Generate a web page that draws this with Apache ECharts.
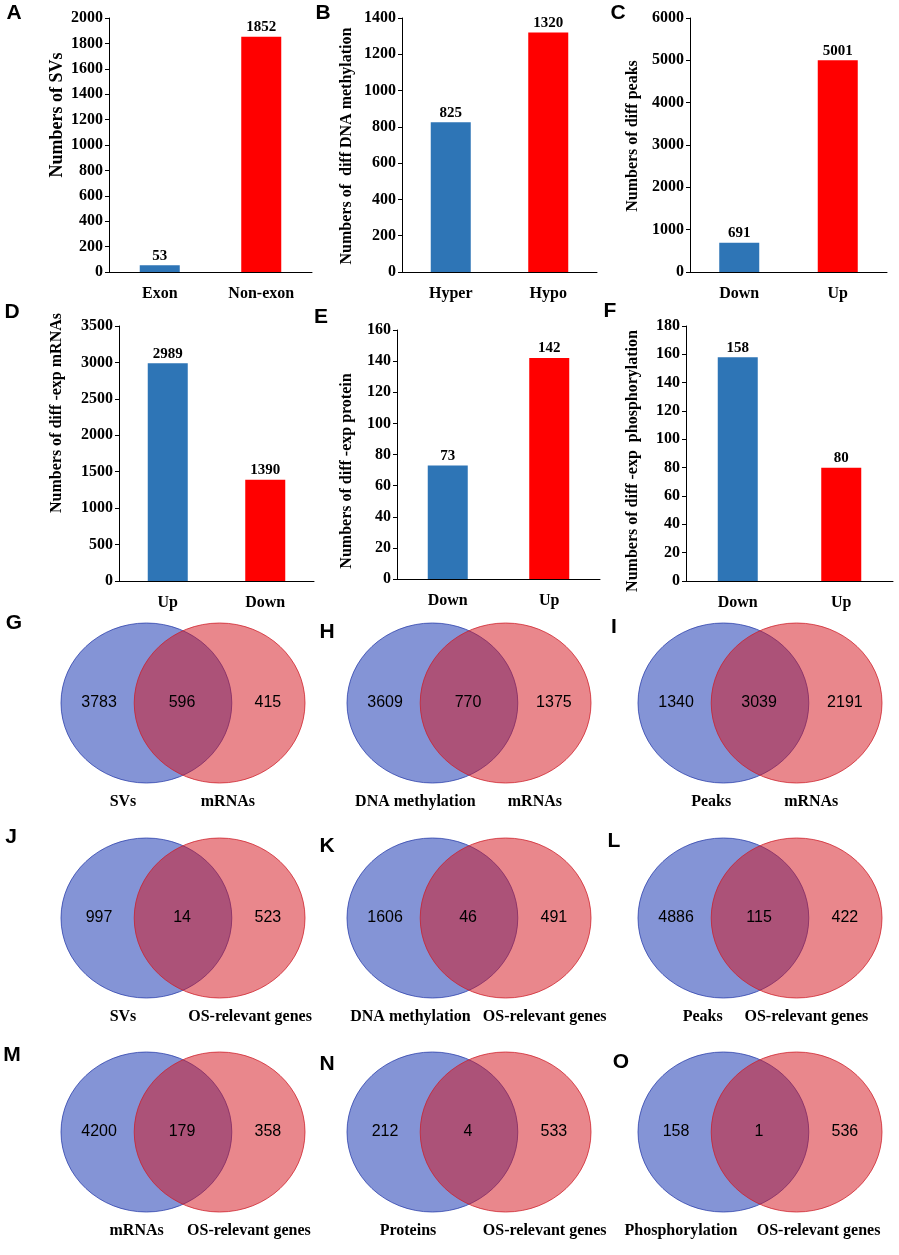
<!DOCTYPE html>
<html>
<head>
<meta charset="utf-8">
<script src="https://cdn.jsdelivr.net/npm/echarts@6.0.0/dist/echarts.min.js"></script>
<style>
  html, body { margin: 0; padding: 0; background: #fff; }
  #chart { width: 899px; height: 1255px; }
</style>
</head>
<body>
<div id="chart"></div>
<script>
// ---- data: bar panels A-F ----
const barCategories = [
  ['Exon', 'Non-exon'],
  ['Hyper', 'Hypo'],
  ['Down', 'Up'],
  ['Up', 'Down'],
  ['Down', 'Up'],
  ['Down', 'Up']
];
const barValues = [
  [53, 1852],
  [825, 1320],
  [691, 5001],
  [2989, 1390],
  [73, 142],
  [158, 80]
];
const barAxisMax = [2000, 1400, 6000, 3500, 160, 180];
const barAxisStep = [200, 200, 1000, 500, 20, 20];
const barTitles = [
  'Numbers of SVs',
  'Numbers of  diff DNA methylation',
  'Numbers of diff peaks',
  'Numbers of diff -exp mRNAs',
  'Numbers of diff -exp protein',
  'Numbers of diff -exp  phosphorylation'
];

// ---- data: venn panels G-O ----
const vennLeftOnly = [3783, 3609, 1340, 997, 1606, 4886, 4200, 212, 158];
const vennShared = [596, 770, 3039, 14, 46, 115, 179, 4, 1];
const vennRightOnly = [415, 1375, 2191, 523, 491, 422, 358, 533, 536];
const vennLeftNames = ['SVs', 'DNA methylation', 'Peaks', 'SVs', 'DNA methylation', 'Peaks', 'mRNAs', 'Proteins', 'Phosphorylation'];
const vennRightNames = ['mRNAs', 'mRNAs', 'mRNAs', 'OS-relevant genes', 'OS-relevant genes', 'OS-relevant genes', 'OS-relevant genes', 'OS-relevant genes', 'OS-relevant genes'];

const panelLetters = ['A', 'B', 'C', 'D', 'E', 'F', 'G', 'H', 'I', 'J', 'K', 'L', 'M', 'N', 'O'];

// ---- layout ----
const SERIF = '"Times New Roman", "Liberation Serif", serif';
const SANS = 'Arial, "Liberation Sans", sans-serif';
const BLUE = '#2e75b6';
const RED = '#ff0000';

// bar grids [left, top, width, height]
const barGrids = [
  [109, 18, 203, 254],
  [402, 18, 195, 254],
  [690, 18, 197, 254],
  [119, 326, 195, 255],
  [397, 330, 203, 249],
  [686, 326, 207, 255]
];
// rotated y titles: [x, y, fontSize]
const barTitlePos = [
  [57, 115, 18], [347, 146, 16], [633, 136, 16],
  [57, 413, 16], [347, 471, 16], [633, 461, 16]
];
const letterPos = [
  [14, 13], [323, 13], [618, 13],
  [12, 312], [321, 317], [610, 311],
  [14, 623], [327, 632], [614, 627],
  [11, 837], [327, 846], [614, 841],
  [12, 1055], [327, 1064], [621, 1062]
];
const vennCols = [61, 347, 638];
const vennRows = [623, 838, 1052];
const VENN_W = 244, VENN_H = 160;
// x fraction of circle centres, counts, and set names inside a venn box
const circleX = [0.35, 0.65];
const countX = [0.156, 0.496, 0.848];
const namePos = [
  [0.254, 0.684], [0.28, 0.77], [0.30, 0.71],
  [0.254, 0.775], [0.26, 0.81], [0.265, 0.69],
  [0.31, 0.77], [0.25, 0.81], [0.176, 0.74]
];
const circleFill = ['rgba(10,42,174,0.5)', 'rgba(212,16,26,0.5)'];
const circleStroke = ['rgba(40,60,170,0.75)', 'rgba(205,30,40,0.75)'];

const grid = [], xAxis = [], yAxis = [], series = [], graphics = [];

// bar panels
barValues.forEach((vals, i) => {
  const [l, t, w, h] = barGrids[i];
  grid.push({ left: l, top: t, width: w, height: h });
  xAxis.push({
    gridIndex: i,
    type: 'category',
    data: barCategories[i],
    axisLine: { lineStyle: { color: '#000', width: 1 } },
    axisTick: { show: false },
    axisLabel: { color: '#000', fontFamily: SERIF, fontWeight: 'bold', fontSize: 16, margin: 14 }
  });
  yAxis.push({
    gridIndex: i,
    type: 'value',
    min: 0,
    max: barAxisMax[i],
    interval: barAxisStep[i],
    axisLine: { show: true, lineStyle: { color: '#000', width: 1 } },
    axisTick: { show: true, length: 4, lineStyle: { color: '#000' } },
    splitLine: { show: false },
    axisLabel: {
      color: '#000', fontFamily: SERIF, fontWeight: 'bold', fontSize: 16, margin: 6,
      formatter: v => String(v)
    }
  });
  series.push({
    type: 'bar',
    xAxisIndex: i,
    yAxisIndex: i,
    barWidth: 40,
    data: vals.map((v, j) => ({ value: v, itemStyle: { color: j === 0 ? BLUE : RED } })),
    label: {
      show: true, position: 'top', distance: 2, color: '#000',
      fontFamily: SERIF, fontWeight: 'bold', fontSize: 15
    },
    silent: true
  });
  const [tx, ty, fs] = barTitlePos[i];
  graphics.push({
    type: 'text', x: tx, y: ty, rotation: Math.PI / 2,
    style: {
      text: barTitles[i], align: 'center', verticalAlign: 'middle',
      font: `bold ${fs}px ${SERIF}`, fill: '#000'
    }
  });
});

// venn panels
function vennRenderer(k) {
  return function (params, api) {
    const region = api.value(0);
    const count = api.value(1);
    const size = api.size([1, 1]);
    const bottom = api.coord([0, 0])[1];
    const children = [];
    if (region !== 1) {
      const side = region === 0 ? 0 : 1;
      const c = api.coord([circleX[side], 0.5]);
      children.push({
        type: 'ellipse',
        shape: { cx: c[0], cy: c[1], rx: size[0] * 0.35, ry: size[1] * 0.5 },
        style: { fill: circleFill[side], stroke: circleStroke[side], lineWidth: 1 },
        z2: side
      });
      children.push({
        type: 'text',
        x: api.coord([namePos[k][side], 0])[0],
        y: bottom + 19,
        style: {
          text: side === 0 ? vennLeftNames[k] : vennRightNames[k],
          align: 'center', verticalAlign: 'middle',
          font: `bold 16px ${SERIF}`, fill: '#000'
        },
        z2: 10
      });
    }
    const p = api.coord([countX[region], 0.5]);
    children.push({
      type: 'text', x: p[0], y: p[1],
      style: {
        text: String(count), align: 'center', verticalAlign: 'middle',
        font: `16px ${SANS}`, fill: '#000'
      },
      z2: 10
    });
    return { type: 'group', children };
  };
}

vennShared.forEach((shared, k) => {
  const g = barValues.length + k;
  grid.push({
    left: vennCols[k % 3], top: vennRows[Math.floor(k / 3)],
    width: VENN_W, height: VENN_H
  });
  xAxis.push({ gridIndex: g, type: 'value', min: 0, max: 1, show: false });
  yAxis.push({ gridIndex: g, type: 'value', min: 0, max: 1, show: false });
  series.push({
    type: 'custom',
    xAxisIndex: g,
    yAxisIndex: g,
    renderItem: vennRenderer(k),
    data: [[0, vennLeftOnly[k]], [1, shared], [2, vennRightOnly[k]]],
    silent: true
  });
});

panelLetters.forEach((ch, i) => {
  graphics.push({
    type: 'text', x: letterPos[i][0], y: letterPos[i][1],
    style: {
      text: ch, align: 'center', verticalAlign: 'middle',
      font: `bold 21px ${SANS}`, fill: '#000'
    }
  });
});

const chart = echarts.init(document.getElementById('chart'));
chart.setOption({
  backgroundColor: '#fff',
  animation: false,
  grid, xAxis, yAxis, series,
  graphic: graphics
});
</script>
</body>
</html>
